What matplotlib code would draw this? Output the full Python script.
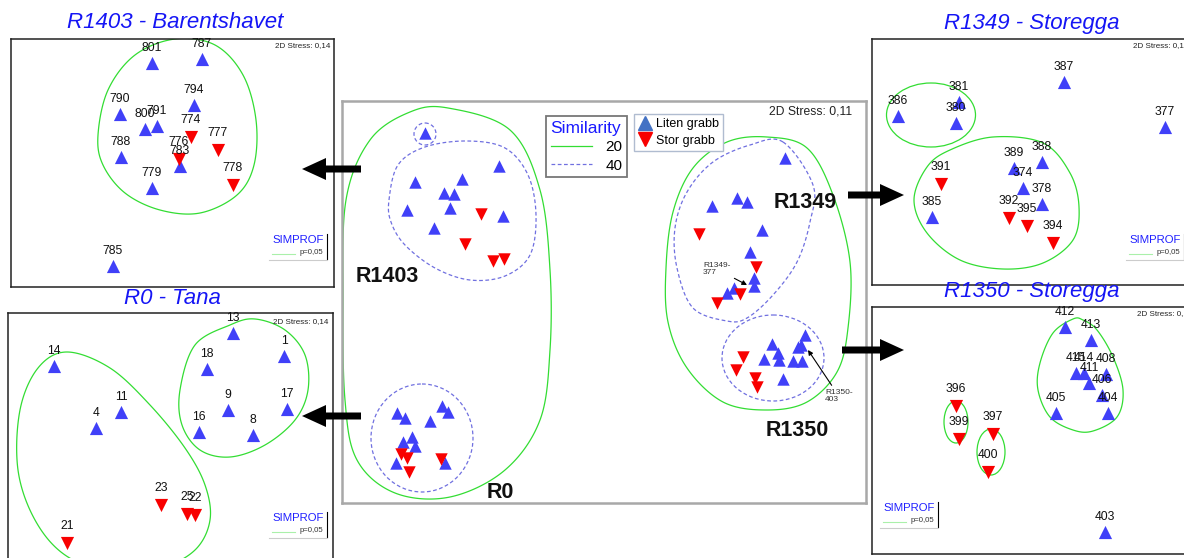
import numpy as np
import matplotlib.pyplot as plt
from matplotlib.patches import FancyArrow, Ellipse, Polygon
from matplotlib.lines import Line2D

plt.rcParams['font.family'] = ['Liberation Sans', 'DejaVu Sans']

W, H = 1184, 558
BLUE = '#4040f8'
RED = '#f80000'
GREEN = '#33dd33'
DASH = '#7070e0'
TITLE = '#1515f5'

# --- MDS coordinates (pixel frame of the figure) ---
# R1403 - Barentshavet
bar_lab = ['801', '787', '794', '790', '800', '791', '774', '777', '788', '776', '783', '779', '778', '785']
bar_x = [152, 202, 194, 120, 145, 157, 191, 218, 121, 179, 180, 152, 233, 113]
bar_y = [63, 59, 105, 114, 129, 126, 137, 150, 157, 159, 166, 188, 185, 266]
bar_kind = ['L', 'L', 'L', 'L', 'L', 'L', 'S', 'S', 'L', 'S', 'L', 'L', 'S', 'L']

# R0 - Tana
tana_lab = ['13', '1', '18', '14', '11', '4', '9', '17', '16', '8', '23', '25', '22', '21']
tana_x = [233, 284, 207, 54, 121, 96, 228, 287, 199, 253, 161, 187, 195, 67]
tana_y = [333, 356, 369, 366, 412, 428, 410, 409, 432, 435, 505, 514, 515, 543]
tana_kind = ['L'] * 10 + ['S'] * 4

# R1349 - Storegga
s49_lab = ['387', '377', '386', '381', '380', '389', '388', '374', '378', '391', '385', '392', '395', '394']
s49_x = [1064, 1165, 898, 959, 956, 1014, 1042, 1023, 1042, 941, 932, 1009, 1027, 1053]
s49_y = [82, 127, 116, 102, 123, 168, 162, 188, 204, 184, 217, 218, 226, 243]
s49_kind = ['L', 'L', 'L', 'L', 'L', 'L', 'L', 'L', 'L', 'S', 'L', 'S', 'S', 'S']

# R1350 - Storegga
s50_lab = ['412', '413', '415', '414', '411', '408', '406', '404', '405', '403', '396', '399', '397', '400']
s50_x = [1065, 1091, 1076, 1084, 1089, 1106, 1102, 1108, 1056, 1105, 956, 959, 993, 988]
s50_y = [327, 340, 373, 373, 383, 374, 395, 413, 413, 532, 406, 439, 434, 472]
s50_kind = ['L'] * 10 + ['S'] * 4

# all stations together (centre plot)
all_liten_x = [425, 499, 415, 462, 444, 454, 407, 450, 503, 434,
               397, 405, 442, 448, 430, 412, 403, 415, 396, 445,
               785, 712, 737, 747, 762, 750, 754, 754, 734, 727,
               805, 772, 801, 778, 798, 764, 779, 793, 802, 783]
all_liten_y = [133, 166, 182, 179, 193, 194, 210, 208, 216, 228,
               413, 418, 406, 412, 421, 437, 442, 446, 463, 463,
               158, 206, 198, 202, 230, 252, 278, 286, 288, 293,
               335, 344, 345, 353, 347, 359, 360, 361, 361, 379]
all_stor_x = [481, 465, 493, 504, 401, 407, 441, 409, 699, 756, 740, 717, 743, 736, 755, 757]
all_stor_y = [214, 244, 261, 259, 454, 458, 459, 472, 234, 267, 294, 303, 357, 370, 378, 387]

fig = plt.figure(figsize=(W / 100, H / 100), dpi=100)


def panel(l, t, r, b, ec='#222222', lw=1.1):
    ax = fig.add_axes([l / W, 1 - b / H, (r - l) / W, (b - t) / H])
    ax.set_xlim(l, r)
    ax.set_ylim(b, t)
    ax.set_xticks([])
    ax.set_yticks([])
    for s in ax.spines.values():
        s.set_color(ec)
        s.set_linewidth(lw)
    return ax


def smooth_closed(pts, n=30):
    p = np.array(pts, float)
    k = len(p)
    t = np.linspace(0, 1, n, endpoint=False)[:, None]
    out = []
    for i in range(k):
        p0, p1, p2, p3 = p[i - 1], p[i], p[(i + 1) % k], p[(i + 2) % k]
        out.append(0.5 * (2 * p1 + (-p0 + p2) * t + (2 * p0 - 5 * p1 + 4 * p2 - p3) * t ** 2
                          + (-p0 + 3 * p1 - 3 * p2 + p3) * t ** 3))
    return np.vstack(out)


def hull(ax, pts, color=GREEN, ls='-', lw=0.9):
    ax.add_patch(Polygon(smooth_closed(pts), closed=True, fill=False, ec=color, ls=ls, lw=lw, zorder=2))


def ring(ax, cx, cy, w, h, color=GREEN, ls='-', lw=0.9):
    ax.add_patch(Ellipse((cx, cy), w, h, fill=False, ec=color, ls=ls, lw=lw, zorder=2))


def stations(ax, labs, xs, ys, kinds):
    xs, ys, kinds = np.array(xs), np.array(ys), np.array(kinds)
    up = kinds == 'L'
    ax.scatter(xs[up], ys[up], marker='^', s=90, color=BLUE, linewidths=0, zorder=3)
    ax.scatter(xs[~up], ys[~up], marker='v', s=90, color=RED, linewidths=0, zorder=4)
    for lab, x, y, k in zip(labs, xs, ys, kinds):
        off = 11 if k == 'L' else 12
        ax.annotate(lab, (x, y), xytext=(0, off), textcoords='offset points',
                    ha='center', va='center', fontsize=8.7, color='#111111', zorder=5)


def simprof(ax, x0, y0):
    ax.text(x0, y0, 'SIMPROF', color='#2020ff', fontsize=8.2, ha='left', va='center')
    ax.text(x0 + 51, y0 + 12, 'p=0,05', color='#333333', fontsize=5.6, ha='right', va='center')
    ax.plot([x0, x0 + 23], [y0 + 14, y0 + 14], color='#aaf0aa', lw=0.8)
    ax.plot([x0 + 55, x0 + 55], [y0 - 6, y0 + 19], color='black', lw=0.8)
    ax.plot([x0 - 3, x0 + 55], [y0 + 20, y0 + 20], color='#cccccc', lw=0.8)


def stress(ax, x, y, txt, ha='right', fs=5.8):
    ax.text(x, y, txt, fontsize=fs, ha=ha, va='center', color='#222222')


# ---------- R1403 - Barentshavet ----------
ax1 = panel(11, 39, 334, 287)
hull(ax1, [(98, 135), (108, 90), (135, 55), (175, 39), (215, 45), (243, 75), (256, 120),
           (254, 165), (237, 195), (200, 213), (160, 210), (125, 193), (103, 165)])
stations(ax1, bar_lab, bar_x, bar_y, bar_kind)
stress(ax1, 330, 46, '2D Stress: 0,14')
simprof(ax1, 272, 240)

# ---------- R0 - Tana ----------
ax2 = panel(8, 313, 333, 580)
hull(ax2, [(180, 390), (195, 345), (230, 325), (255, 319), (285, 330), (305, 355), (308, 390),
           (295, 420), (265, 445), (230, 457), (200, 450), (182, 425)])
hull(ax2, [(67, 352), (110, 368), (150, 405), (185, 448), (205, 485), (210, 520), (195, 550),
           (160, 568), (110, 572), (65, 555), (35, 520), (18, 470), (20, 410), (38, 368)])
stations(ax2, tana_lab, tana_x, tana_y, tana_kind)
stress(ax2, 328, 322, '2D Stress: 0,14')
simprof(ax2, 272, 518)

# ---------- R1349 - Storegga ----------
ax3 = panel(872, 39, 1200, 285)
ring(ax3, 931, 115, 89, 64)
hull(ax3, [(914, 200), (927, 167), (950, 150), (993, 137), (1043, 143), (1070, 173), (1079, 207),
           (1073, 240), (1043, 263), (1003, 269), (960, 260), (927, 233)])
stations(ax3, s49_lab, s49_x, s49_y, s49_kind)
stress(ax3, 1133, 46, '2D Stress: 0,14', ha='left')
simprof(ax3, 1129, 240)

# ---------- R1350 - Storegga ----------
ax4 = panel(872, 307, 1200, 554)
ring(ax4, 956, 422, 24, 42)
ring(ax4, 991, 452, 28, 46)
hull(ax4, [(1073, 319), (1053, 333), (1040, 363), (1038, 390), (1050, 417), (1073, 430),
           (1093, 431), (1117, 417), (1123, 390), (1113, 357), (1097, 330), (1083, 320)])
stations(ax4, s50_lab, s50_x, s50_y, s50_kind)
stress(ax4, 1137, 314, '2D Stress: 0,14', ha='left')
simprof(ax4, 883, 508)

# ---------- all stations ----------
ax0 = panel(342, 101, 866, 503, ec='#a8a8a8', lw=1.8)
hull(ax0, [(448, 108), (510, 130), (540, 190), (550, 270), (550, 350), (540, 420), (505, 470),
           (450, 497), (395, 493), (357, 460), (345, 400), (343, 300), (346, 200), (370, 140), (410, 112)])
hull(ax0, [(389, 200), (398, 165), (425, 147), (467, 141), (505, 148), (528, 175), (536, 215),
           (530, 255), (505, 276), (470, 280), (435, 268), (405, 245), (391, 222)], color=DASH, ls=(0, (3, 2)))
ring(ax0, 425, 134, 22, 22, color=DASH, ls=(0, (3, 2)))
ring(ax0, 422, 438, 102, 108, color=DASH, ls=(0, (3, 2)))
hull(ax0, [(767, 137), (807, 148), (833, 195), (850, 262), (848, 328), (837, 372), (807, 402),
           (767, 410), (723, 402), (687, 368), (668, 322), (666, 268), (673, 212), (693, 168), (727, 142)])
hull(ax0, [(783, 142), (813, 185), (810, 222), (797, 262), (773, 295), (747, 318), (727, 321),
           (693, 308), (677, 268), (675, 228), (687, 192), (713, 162), (750, 145)], color=DASH, ls=(0, (3, 2)))
ring(ax0, 773, 358, 102, 86, color=DASH, ls=(0, (3, 2)))
ax0.scatter(all_liten_x, all_liten_y, marker='^', s=80, color=BLUE, linewidths=0, zorder=3)
ax0.scatter(all_stor_x, all_stor_y, marker='v', s=80, color=RED, linewidths=0, zorder=4)

for txt, x, y in [('R1403', 356, 277), ('R0', 487, 492), ('R1349', 774, 202), ('R1350', 766, 431)]:
    ax0.text(x, y, txt, fontsize=15.5, fontweight='bold', ha='left', va='center', color='#111111')
ax0.annotate('R1349-\n377', xy=(747, 285), xytext=(703, 269), fontsize=6, color='#333333',
             ha='left', va='center', linespacing=0.9,
             arrowprops=dict(arrowstyle='-|>', color='black', lw=0.8, mutation_scale=7, shrinkA=1, shrinkB=0))
ax0.annotate('R1350-\n403', xy=(808, 350), xytext=(825, 396), fontsize=6, color='#333333',
             ha='left', va='center', linespacing=0.9,
             arrowprops=dict(arrowstyle='-|>', color='black', lw=0.8, mutation_scale=7, shrinkA=1, shrinkB=0))
stress(ax0, 852, 111, '2D Stress: 0,11', fs=8.7)

leg1 = ax0.legend([Line2D([], [], color=GREEN, lw=0.9), Line2D([], [], color=DASH, lw=0.9, ls=(0, (3, 2)))],
                  ['20', '40'], title='Similarity', loc='upper left', bbox_to_anchor=(546, 116),
                  bbox_transform=ax0.transData, borderaxespad=0, fontsize=11, title_fontsize=12.5,
                  handlelength=2.7, handletextpad=0.9, borderpad=0.3, labelspacing=0.3,
                  fancybox=False, edgecolor='#777777', framealpha=1, alignment='left')
leg1.get_title().set_color('#1a1aff')
leg1.get_frame().set_linewidth(1.3)
ax0.add_artist(leg1)
leg2 = ax0.legend([Line2D([], [], ls='', marker='^', ms=9.5, color='#4472c4'),
                   Line2D([], [], ls='', marker='v', ms=9.5, color=RED)],
                  ['Liten grabb', 'Stor grabb'], loc='upper left', bbox_to_anchor=(634, 114),
                  bbox_transform=ax0.transData, borderaxespad=0, fontsize=9, handlelength=1,
                  handletextpad=0.4, borderpad=0.35, labelspacing=0.35,
                  fancybox=False, edgecolor='#b0bcd0', framealpha=1)
leg2.get_frame().set_linewidth(1.0)

# ---------- overlay: titles and arrows ----------
ov = fig.add_axes([0, 0, 1, 1], zorder=10)
ov.set_xlim(0, W)
ov.set_ylim(H, 0)
ov.axis('off')
for txt, x, y in [('R1403 - Barentshavet', 175, 23), ('R0 - Tana', 172, 298),
                  ('R1349 - Storegga', 1032, 23), ('R1350 - Storegga', 1032, 292)]:
    ov.text(x, y, txt, fontsize=16, style='italic', color=TITLE, ha='center', va='center')

for x0, x1, y in [(361, 302, 169), (361, 302, 416), (848, 904, 195), (842, 904, 350)]:
    ov.add_patch(FancyArrow(x0, y, x1 - x0, 0, width=7, head_width=22, head_length=24,
                            length_includes_head=True, color='black', lw=0))

fig.savefig('out.png', dpi=100)
